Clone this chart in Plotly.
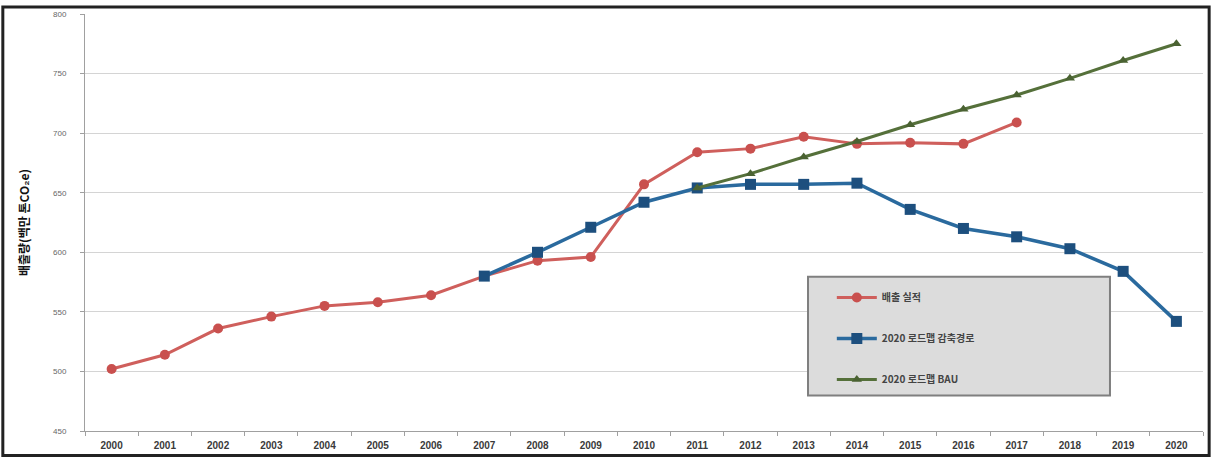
import plotly.graph_objects as go

years = [str(y) for y in range(2000, 2021)]

# 배출 실적 (2000-2017)
actual_years = years[:18]
actual = [502, 514, 536, 546, 555, 558, 564, 580, 593, 596,
          657, 684, 687, 697, 691, 692, 691, 709]

# 2020 로드맵 감축경로 (2007-2020)
path_years = years[7:]
path = [580, 600, 621, 642, 654, 657, 657, 658, 636, 620, 613, 603, 584, 542]

# 2020 로드맵 BAU (2011-2020)
bau_years = years[11:]
bau = [654, 666, 680, 693, 707, 720, 732, 746, 761, 775]

y_ticks = [450, 500, 550, 600, 650, 700, 750, 800]

fig = go.Figure()

fig.add_trace(go.Scatter(
    x=actual_years, y=actual, name="<b>배출 실적</b>", mode="lines+markers",
    line=dict(color="#cf5f5c", width=3),
    marker=dict(symbol="circle", size=10, color="#c9504e"),
    legendgroup="a",
))
fig.add_trace(go.Scatter(
    x=path_years, y=path, name="<b>2020 로드맵 감축경로</b>", mode="lines+markers",
    line=dict(color="#2a6a9e", width=3.5),
    marker=dict(symbol="square", size=11, color="#1d4f7e"),
    legendgroup="b",
))
fig.add_trace(go.Scatter(
    x=bau_years, y=bau, name="<b>2020 로드맵 BAU</b>", mode="lines+markers",
    line=dict(color="#55703a", width=3),
    marker=dict(symbol="triangle-up", size=9, color="#4a6232"),
    legendgroup="c",
))

# legend panel background
fig.add_shape(type="rect", xref="paper", yref="paper",
              x0=0.6467, x1=0.9168, y0=0.085, y1=0.370,
              fillcolor="#dcdcdc", line=dict(color="#7f7f7f", width=2),
              layer="above")

# outer frame
fig.add_shape(type="rect", xref="paper", yref="paper",
              x0=-0.0735, x1=1.0055, y0=-0.059, y1=1.017,
              fillcolor="rgba(0,0,0,0)", line=dict(color="#222222", width=3))

fig.update_layout(
    width=1213, height=461,
    margin=dict(l=85, r=10, t=10, b=29),
    paper_bgcolor="white", plot_bgcolor="white",
    font=dict(family="Noto Sans CJK KR, Liberation Sans, sans-serif", color="#333333"),
    showlegend=True,
    legend=dict(
        x=0.668, y=0.355, xanchor="left", yanchor="top",
        bgcolor="rgba(0,0,0,0)", borderwidth=0,
        font=dict(size=10, color="#444444"),
        tracegroupgap=22, itemwidth=40,
    ),
    xaxis=dict(
        type="category", categoryorder="array", categoryarray=years,
        tickson="boundaries", ticks="outside", ticklen=4, tickcolor="#a0a0a0",
        tickvals=years, ticktext=[f"<b>{y}</b>" for y in years],
        tickfont=dict(size=10, color="#3a3a3a", family="Liberation Sans"),
        ticklabelstandoff=5,
        showgrid=False, showline=True, linecolor="#a0a0a0", linewidth=1,
        range=[-0.5, 20.5],
    ),
    yaxis=dict(
        range=[450, 800], tickvals=y_ticks,
        tickfont=dict(size=8, color="#666666", family="Liberation Sans"),
        ticklabelstandoff=12,
        showgrid=True, gridcolor="#d4d4d4", gridwidth=1,
        showline=True, linecolor="#a0a0a0", linewidth=1,
        ticks="outside", ticklen=4, tickcolor="#a0a0a0",
        zeroline=False,
        title=dict(text="<b>배출량(백만 톤CO₂e)</b>", font=dict(size=12, color="#111111"),
                   standoff=20),
    ),
)

fig.write_html("out.html")
